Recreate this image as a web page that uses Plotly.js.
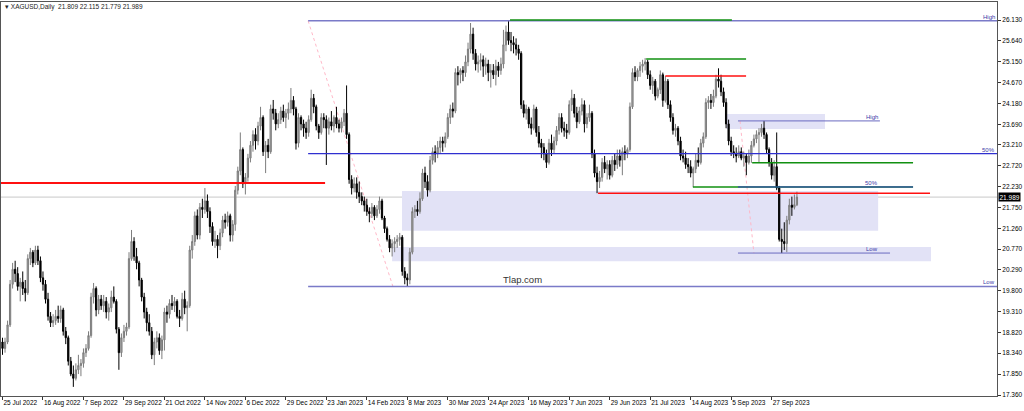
<!DOCTYPE html>
<html><head><meta charset="utf-8">
<script src="https://cdn.plot.ly/plotly-3.0.1.min.js"></script>
<style>html,body{margin:0;padding:0;background:#fff}#c{width:1024px;height:411px}</style>
</head><body><div id="c"></div>
<script>
// ---- data (daily bars, index 0 = 25 Jul 2022) ----
const open = [18.60,18.45,18.60,19.00,19.95,20.30,20.20,19.90,20.00,19.85,
19.75,20.55,20.70,20.45,20.75,20.50,20.10,19.95,19.60,19.20,
19.05,19.10,19.20,19.15,19.35,18.85,18.70,18.15,17.85,17.75,
17.95,18.05,18.10,18.35,18.45,18.75,19.65,19.85,19.35,19.60,
19.45,19.55,19.30,19.40,19.65,19.55,18.90,18.35,18.70,18.85,
18.95,20.55,20.95,20.60,20.45,20.05,19.65,19.30,19.05,18.85,
18.30,18.60,18.70,18.40,18.65,19.30,19.25,19.50,19.45,19.55,
19.20,19.15,19.60,19.40,19.45,20.75,20.95,21.55,21.10,21.75,
21.70,21.90,21.65,21.30,20.95,21.00,20.85,21.15,21.45,21.40,
21.55,21.10,21.35,22.15,22.60,23.10,22.30,22.45,22.90,23.20,
23.45,23.30,23.65,23.85,23.05,23.20,23.05,24.05,23.95,23.70,
23.80,24.00,23.85,23.95,24.05,24.25,24.05,23.25,23.85,23.70,
23.60,23.50,23.80,24.30,24.10,23.65,23.50,23.85,23.80,23.60,
23.75,23.65,23.85,23.70,23.60,23.75,23.95,23.45,22.40,22.20,
22.30,22.10,22.00,21.90,21.80,21.65,21.60,21.75,21.55,21.70,
21.90,21.50,21.25,21.00,20.80,20.90,20.95,21.00,21.05,20.25,
20.10,20.05,20.70,21.65,21.70,21.65,21.95,22.55,22.35,22.15,
22.85,23.05,23.00,23.15,23.30,23.25,23.40,23.85,24.05,24.00,
24.90,24.85,24.95,24.90,25.15,25.45,25.80,25.35,25.10,25.15,
25.20,25.05,25.10,24.90,24.95,24.85,25.05,24.95,25.10,25.55,
25.85,25.65,25.60,25.55,25.45,25.35,24.15,23.95,24.05,23.70,
23.60,24.05,23.50,23.25,23.15,23.00,22.80,23.25,23.10,23.30,
23.55,23.85,23.60,23.55,23.50,24.15,24.30,23.95,23.75,24.00,
24.15,23.70,23.85,23.95,23.00,22.55,22.35,22.45,22.80,22.65,
22.75,22.50,22.85,22.75,22.95,22.85,23.05,23.00,23.10,24.10,
24.90,24.80,24.95,25.05,25.10,25.15,24.85,24.60,24.70,24.35,
24.50,24.85,24.25,24.70,24.15,23.85,23.55,23.60,23.30,22.95,
22.90,22.75,22.70,22.55,22.65,22.85,22.80,23.25,23.40,24.20,
24.25,24.20,24.35,24.75,24.70,24.45,24.20,23.70,23.30,23.05,
23.00,22.95,23.05,22.90,22.95,22.80,22.95,23.20,23.35,23.45,
23.50,23.60,23.45,23.10,22.80,22.50,22.70,22.20,21.00,20.95,
20.90,21.45,21.80,21.75,21.809];
const high = [18.70,18.70,19.10,20.05,20.45,20.50,20.35,20.10,20.25,20.05,
20.65,20.80,20.75,20.85,20.85,20.60,20.25,20.05,19.75,19.30,
19.25,19.35,19.45,19.45,19.40,18.95,18.75,18.25,18.05,18.10,
18.30,18.20,18.45,18.55,18.85,19.75,19.98,19.90,19.70,19.70,
19.70,19.65,19.50,19.80,19.90,19.60,18.95,18.80,19.00,19.05,
20.70,21.22,21.05,20.80,20.50,20.10,19.75,19.40,19.25,18.95,
18.70,18.85,18.80,18.75,19.40,19.45,19.60,19.70,19.65,19.60,
19.35,19.75,19.80,19.55,20.85,21.10,21.65,21.70,21.85,21.95,
22.20,22.05,21.75,21.40,21.20,21.10,21.25,21.55,21.60,21.65,
21.60,21.45,22.25,22.70,23.50,23.15,22.55,23.00,23.30,23.55,
23.60,23.75,24.10,23.90,23.30,23.35,24.15,24.26,24.05,23.95,
24.10,24.15,24.05,24.20,24.54,24.35,24.10,23.95,23.90,23.80,
23.75,23.90,24.50,24.40,24.15,23.70,23.95,23.95,23.90,23.85,
24.00,23.90,24.10,23.80,23.85,24.05,24.60,23.50,22.50,22.45,
22.45,22.35,22.10,22.00,21.95,21.75,21.85,21.80,21.80,22.00,
21.95,21.55,21.30,21.10,21.00,21.05,21.10,21.15,21.10,20.35,
20.20,20.80,21.75,21.80,21.90,22.10,22.65,22.70,22.50,22.95,
23.15,23.20,23.30,23.40,23.40,23.50,23.95,24.15,24.20,25.00,
25.05,25.00,25.05,25.30,25.60,26.06,25.95,25.45,25.30,25.35,
25.30,25.25,25.20,25.10,25.10,25.20,25.15,25.25,25.90,26.00,
26.13,25.85,25.75,25.70,25.55,25.40,24.25,24.15,24.10,23.85,
24.15,24.10,23.65,23.35,23.25,23.10,23.35,23.45,23.40,23.65,
23.95,23.95,23.75,23.70,24.25,24.50,24.40,24.10,24.10,24.30,
24.25,23.95,24.15,24.00,23.10,22.70,22.60,22.90,22.95,22.85,
22.85,22.95,23.00,23.10,23.10,23.15,23.20,23.15,24.20,25.00,
25.05,25.00,25.15,25.20,25.24,25.20,24.95,24.80,24.75,24.55,
24.95,24.90,24.82,24.75,24.25,23.95,23.70,23.65,23.40,23.10,
23.05,22.90,22.85,22.70,23.00,23.15,23.35,23.50,24.30,24.35,
24.40,24.50,24.85,25.00,24.85,24.55,24.30,23.80,23.40,23.20,
23.15,23.20,23.15,23.05,23.00,23.10,23.30,23.45,23.55,23.60,
23.70,23.77,23.50,23.15,22.90,22.85,23.50,22.25,21.25,21.40,
21.55,21.95,22.00,22.05,22.115];
const low = [18.30,18.35,18.55,18.95,19.85,20.00,19.80,19.55,19.70,19.55,
19.70,20.40,20.35,20.40,20.40,20.00,19.80,19.50,19.10,18.95,
18.95,19.00,19.05,19.05,18.75,18.55,18.05,17.80,17.55,17.70,
17.85,17.80,18.00,18.25,18.40,18.70,19.50,19.20,19.25,19.35,
19.30,19.15,19.10,19.30,19.50,18.80,17.95,18.25,18.60,18.75,
18.90,20.50,20.50,20.30,19.90,19.55,19.15,18.85,18.75,18.20,
18.06,18.45,18.30,18.20,18.40,19.05,19.15,19.35,19.30,19.15,
18.95,19.10,19.25,18.85,19.40,20.55,20.85,21.00,21.00,21.50,
21.60,21.50,21.15,20.85,20.80,20.56,20.75,21.05,21.25,21.30,
20.95,20.95,21.20,22.05,22.50,22.20,22.05,22.35,22.80,23.05,
23.10,23.20,23.55,22.95,22.55,22.90,23.00,23.80,23.55,23.60,
23.70,23.75,23.60,23.80,23.95,23.90,23.10,23.15,23.55,23.40,
23.35,23.40,23.75,23.95,23.55,23.35,23.45,23.60,22.74,23.45,
23.55,23.50,23.60,23.50,23.50,23.65,23.35,22.30,22.05,22.10,
21.95,21.85,21.80,21.65,21.55,21.40,21.50,21.45,21.50,21.60,
21.45,21.15,20.95,20.70,20.60,20.70,20.80,20.85,20.15,19.95,
19.90,19.95,20.65,21.50,21.55,21.60,21.90,22.20,22.00,22.10,
22.75,22.80,22.90,23.00,23.05,23.15,23.35,23.70,23.85,23.95,
24.60,24.65,24.70,24.80,25.05,25.35,25.20,24.95,24.90,24.95,
24.80,24.85,24.70,24.55,24.75,24.60,24.80,24.85,25.00,25.40,
25.55,25.40,25.35,25.30,25.20,24.05,23.85,23.80,23.60,23.45,
23.55,23.40,23.15,22.90,22.85,22.67,22.75,22.95,23.00,23.20,
23.45,23.50,23.40,23.35,23.45,24.00,23.85,23.60,23.70,23.90,
23.50,23.60,23.75,22.90,22.45,22.08,22.20,22.35,22.55,22.40,
22.40,22.45,22.60,22.65,22.70,22.50,22.85,22.90,23.05,24.05,
24.70,24.70,24.80,24.90,24.95,24.75,24.50,24.40,24.25,24.30,
24.40,24.10,24.20,24.05,23.75,23.45,23.40,23.20,22.85,22.80,
22.65,22.55,22.45,22.22,22.55,22.70,22.75,23.15,23.35,24.05,
24.05,24.10,24.30,24.55,24.35,24.10,23.60,23.20,22.95,22.90,
22.80,22.90,22.85,22.70,22.50,22.75,22.79,23.15,23.25,22.80,
23.40,23.35,23.00,22.70,22.40,22.35,22.15,20.95,20.68,20.75,
20.70,21.35,21.55,21.70,21.779];
const close = [18.45,18.60,19.00,19.95,20.30,20.20,19.90,20.00,19.85,19.75,
20.55,20.70,20.45,20.75,20.50,20.10,19.95,19.60,19.20,19.05,
19.10,19.20,19.15,19.35,18.85,18.70,18.15,17.85,17.75,17.95,
18.05,18.10,18.35,18.45,18.75,19.65,19.85,19.35,19.60,19.45,
19.55,19.30,19.40,19.65,19.55,18.90,18.35,18.70,18.85,18.95,
20.55,20.95,20.60,20.45,20.05,19.65,19.30,19.05,18.85,18.30,
18.60,18.70,18.40,18.65,19.30,19.25,19.50,19.45,19.55,19.20,
19.15,19.60,19.40,19.45,20.75,20.95,21.55,21.10,21.75,21.70,
21.90,21.65,21.30,20.95,21.00,20.85,21.15,21.45,21.40,21.55,
21.10,21.35,22.15,22.60,23.10,22.30,22.45,22.90,23.20,23.45,
23.30,23.65,23.85,23.05,23.20,23.05,24.05,23.95,23.70,23.80,
24.00,23.85,23.95,24.05,24.25,24.05,23.25,23.85,23.70,23.60,
23.50,23.80,24.30,24.10,23.65,23.50,23.85,23.80,23.60,23.75,
23.65,23.85,23.70,23.60,23.75,23.95,23.45,22.40,22.20,22.30,
22.10,22.00,21.90,21.80,21.65,21.60,21.75,21.55,21.70,21.90,
21.50,21.25,21.00,20.80,20.90,20.95,21.00,21.05,20.25,20.10,
20.05,20.70,21.65,21.70,21.65,21.95,22.55,22.35,22.15,22.85,
23.05,23.00,23.15,23.30,23.25,23.40,23.85,24.05,24.00,24.90,
24.85,24.95,24.90,25.15,25.45,25.80,25.35,25.10,25.15,25.20,
25.05,25.10,24.90,24.95,24.85,25.05,24.95,25.10,25.55,25.85,
25.65,25.60,25.55,25.45,25.35,24.15,23.95,24.05,23.70,23.60,
24.05,23.50,23.25,23.15,23.00,22.80,23.25,23.10,23.30,23.55,
23.85,23.60,23.55,23.50,24.15,24.30,23.95,23.75,24.00,24.15,
23.70,23.85,23.95,23.00,22.55,22.35,22.45,22.80,22.65,22.75,
22.50,22.85,22.75,22.95,22.85,23.05,23.00,23.10,24.10,24.90,
24.80,24.95,25.05,25.10,25.15,24.85,24.60,24.70,24.35,24.50,
24.85,24.25,24.70,24.15,23.85,23.55,23.60,23.30,22.95,22.90,
22.75,22.70,22.55,22.65,22.85,22.80,23.25,23.40,24.20,24.25,
24.20,24.35,24.75,24.70,24.45,24.20,23.70,23.30,23.05,23.00,
22.95,23.05,22.90,22.95,22.80,22.95,23.20,23.35,23.45,23.50,
23.60,23.45,23.10,22.80,22.50,22.70,22.20,21.00,20.95,20.90,
21.45,21.80,21.75,21.81,21.989];

const xTickIdx = [0,16,32,48,64,80,96,112,128,144,160,176,192,208,224,240,256,272,288,304];
const xTickText = ["25 Jul 2022","16 Aug 2022","7 Sep 2022","29 Sep 2022","21 Oct 2022","14 Nov 2022","6 Dec 2022","29 Dec 2022","23 Jan 2023","14 Feb 2023","8 Mar 2023","30 Mar 2023","24 Apr 2023","16 May 2023","7 Jun 2023","29 Jun 2023","21 Jul 2023","14 Aug 2023","5 Sep 2023","27 Sep 2023"];
const yTickVals = [26.130,25.640,25.150,24.670,24.180,23.690,23.210,22.720,22.230,21.750,21.260,20.770,20.290,19.800,19.310,18.820,18.340,17.850,17.360];

const symbolName = "XAGUSD,Daily";
const lastBar = [21.809, 22.115, 21.779, 21.989];   // O H L C of the last bar
const fibMain = [26.11, 23.005, 19.90];               // High, 50%, Low
const fibSwing = [23.77, 22.225, 20.68];              // High, 50%, Low
const redLevels = [22.32, 22.08, 24.82];
const greenLevels = [26.13, 25.22, 22.79, 22.225];
const zones = [[21.20, 22.13], [20.49, 20.82], [23.58, 23.93]];
const watermark = "Tlap.com";

// ---- chart ----
const idx = close.map((_, i) => i);
const XMIN = -0.593, XMAX = 393.08;
const fontFam = "Liberation Sans, Arial, sans-serif";
const zoneFill = "rgb(226,226,246)";
const blue = "#3030d0", green = "#119011", red = "#ff1010";

const trace = {
  type: "candlestick", x: idx, open: open, high: high, low: low, close: close,
  increasing: {line: {color: "#7c7c7c", width: 1}, fillcolor: "#a8a8a8"},
  decreasing: {line: {color: "#000000", width: 1}, fillcolor: "#000000"},
  whiskerwidth: 0, hoverinfo: "skip", showlegend: false
};

function hline(y, x0, x1, color, width, xref) {
  return {type: "line", xref: xref || "x", yref: "y", x0: x0, x1: x1, y0: y, y1: y,
          line: {color: color, width: width}, layer: "above"};
}
const shapes = [
  // zones
  {type: "rect", x0: 157.9, x1: 346.1, y0: zones[0][0], y1: zones[0][1], fillcolor: zoneFill, line: {width: 0}, layer: "below"},
  {type: "rect", x0: 154.0, x1: 367.0, y0: zones[1][0], y1: zones[1][1], fillcolor: zoneFill, line: {width: 0}, layer: "below"},
  {type: "rect", x0: 286.0, x1: 325.1, y0: zones[2][0], y1: zones[2][1], fillcolor: zoneFill, line: {width: 0}, layer: "below"},
  // current price line
  {type: "line", xref: "paper", x0: 0, x1: 1, y0: lastBar[3], y1: lastBar[3], line: {color: "#c8c8c8", width: 1}, layer: "below"},
  // fib trend lines (dotted)
  {type: "line", x0: 120.8, y0: fibMain[0], x1: 154.3, y1: fibMain[2], line: {color: "#ffb8c8", width: 1, dash: "dot"}, layer: "below"},
  {type: "line", x0: 291.5, y0: fibSwing[0], x1: 297.0, y1: fibSwing[2], line: {color: "#ffb8c8", width: 1, dash: "dot"}, layer: "below"},
  // main fib levels
  hline(fibMain[0], 120.8, XMAX, "#7a7ac8", 1.5),
  hline(fibMain[1], 120.8, XMAX, blue, 1.2),
  hline(fibMain[2], 120.8, XMAX, "#7a7ac8", 1.5),
  // red levels
  hline(redLevels[0], XMIN, 127.5, red, 2),
  hline(redLevels[1], 235.4, 366.6, red, 1.5),
  hline(redLevels[2], 262.0, 293.9, red, 1.5),
  // green levels
  hline(greenLevels[0], 200.6, 288.3, green, 1.5),
  hline(greenLevels[1], 254.4, 293.9, green, 1.5),
  hline(greenLevels[2], 296.3, 359.9, green, 1.5),
  hline(greenLevels[3], 272.9, 359.9, green, 1.5),
  // swing fib levels
  hline(fibSwing[0], 290.7, 346.8, "#6a6ac0", 1),
  hline(fibSwing[1], 290.7, 359.9, blue, 1),
  hline(fibSwing[2], 290.7, 350.8, "#6a6ac0", 1)
];

const lblFont = {family: fontFam, size: 6, color: "#3a3aa8"};
function lbl(text, x, y, xref) {
  return {text: text, x: x, y: y, xref: xref || "x", yref: "y", xanchor: "right", yanchor: "bottom",
          showarrow: false, font: lblFont, yshift: -1};
}
const annotations = [
  lbl("High", 1, fibMain[0], "paper"), lbl("50%", 1, fibMain[1], "paper"), lbl("Low", 1, fibMain[2], "paper"),
  lbl("High", 346.8, fibSwing[0]), lbl("50%", 346.8, fibSwing[1]), lbl("Low", 346.8, fibSwing[2]),
  {text: watermark, x: 205.7, y: 20.07, xref: "x", yref: "y", showarrow: false,
   font: {family: fontFam, size: 9.5, color: "#333333"}},
  {text: "\u25BE " + symbolName + "  " + lastBar.map(v => v.toFixed(3)).join(" "), xref: "paper", yref: "paper",
   x: 0, y: 1, xanchor: "left", yanchor: "top", xshift: 2, yshift: 1, showarrow: false,
   font: {family: fontFam, size: 6.5, color: "#222"}},
  {text: lastBar[3].toFixed(3), xref: "paper", yref: "y", x: 1, y: lastBar[3], xanchor: "left", yanchor: "middle",
   xshift: 1, showarrow: false, bgcolor: "#000", borderpad: 0.5,
   font: {family: fontFam, size: 6.5, color: "#fff"}}
];

const layout = {
  width: 1024, height: 411,
  margin: {l: 1, r: 27, t: 2, b: 15, pad: 0},
  paper_bgcolor: "#fff", plot_bgcolor: "#fff",
  font: {family: fontFam, size: 6.5, color: "#000"},
  showlegend: false,
  xaxis: {
    range: [XMIN, XMAX], rangeslider: {visible: false}, showgrid: false, zeroline: false,
    tickmode: "array", tickvals: xTickIdx, ticktext: xTickText, tickangle: 0,
    ticks: "outside", ticklen: 3, tickcolor: "#333", ticklabelposition: "outside right",
    showline: true, linecolor: "#555", linewidth: 1, mirror: true,
    tickfont: {family: fontFam, size: 6.5, color: "#000"}, fixedrange: true
  },
  yaxis: {
    side: "right", range: [17.337, 26.551], showgrid: false, zeroline: false,
    tickmode: "array", tickvals: yTickVals, ticktext: yTickVals.map(v => v.toFixed(3)),
    ticks: "outside", ticklen: 3, tickcolor: "#333",
    showline: true, linecolor: "#555", linewidth: 1, mirror: true,
    tickfont: {family: fontFam, size: 6.5, color: "#000"}, fixedrange: true
  },
  shapes: shapes, annotations: annotations
};
Plotly.newPlot("c", [trace], layout, {displayModeBar: false, staticPlot: true});
</script>
</body></html>
